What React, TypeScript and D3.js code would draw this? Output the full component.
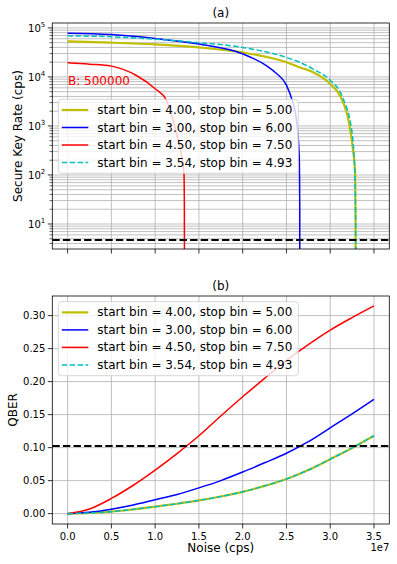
import React from 'react';
import * as d3 from 'd3';

// noise in units of 1e7 cps
const noiseTicks = [0, 0.5, 1.0, 1.5, 2.0, 2.5, 3.0, 3.5];
const qberTicks = [0, 0.05, 0.1, 0.15, 0.2, 0.25, 0.3];
const seriesNames = [
  'start bin = 4.00, stop bin = 5.00',
  'start bin = 3.00, stop bin = 6.00',
  'start bin = 4.50, stop bin = 7.50',
  'start bin = 3.54, stop bin = 4.93',
];

// (a) secure key rate
const keyNoiseYellow = [0, 0.5, 1.0, 1.5, 2.0, 2.5, 2.65, 2.8, 3.0, 3.12, 3.215, 3.26, 3.285, 3.289, 3.29];
const keyYellow = [5.3e4, 5.0e4, 4.6e4, 4.0e4, 3.16e4, 2.0e4, 1.58e4, 1.26e4, 7.2e3, 3.9e3, 1.15e3, 330, 112, 10, 0];
const keyNoiseBlue = [0, 0.5, 1.0, 1.5, 2.0, 2.27, 2.38, 2.5, 2.57, 2.615, 2.646, 2.652, 2.654];
const keyBlue = [7.8e4, 7.33e4, 6.1e4, 4.68e4, 2.95e4, 1.7e4, 1.2e4, 6.8e3, 3.1e3, 1.3e3, 240, 20, 0];
const keyNoiseRed = [0, 0.25, 0.5, 0.786, 1.0, 1.127, 1.233, 1.329, 1.334, 1.336];
const keyRed = [1.94e4, 1.82e4, 1.66e4, 1.07e4, 5.75e3, 3.4e3, 830, 112, 20, 0];
const keyNoiseCyan = [0, 0.5, 1.0, 1.5, 2.0, 2.5, 2.65, 2.8, 3.0, 3.14, 3.25, 3.28, 3.292, 3.295];
const keyCyan = [6.9e4, 6.6e4, 5.9e4, 5.0e4, 4.0e4, 2.5e4, 2.0e4, 1.46e4, 8.5e3, 3.9e3, 720, 112, 10, 0];
const keyThreshold = 4.7;

// (b) QBER
const qberNoise = [0, 0.25, 0.5, 0.75, 1.0, 1.25, 1.5, 1.75, 2.0, 2.25, 2.5, 2.75, 3.0, 3.25, 3.5];
const qberYellow = [0, 0.001, 0.003, 0.0065, 0.0105, 0.015, 0.02, 0.026, 0.033, 0.042, 0.0525, 0.066, 0.0825, 0.0995, 0.118];
const qberBlue = [0, 0.002, 0.0067, 0.013, 0.021, 0.029, 0.039, 0.05, 0.063, 0.077, 0.0915, 0.109, 0.13, 0.151, 0.173];
const qberRed = [0, 0.007, 0.023, 0.043, 0.066, 0.091, 0.118, 0.148, 0.177, 0.205, 0.232, 0.256, 0.278, 0.297, 0.3147];
const qberCyan = [0, 0.001, 0.003, 0.0065, 0.0105, 0.015, 0.02, 0.026, 0.033, 0.042, 0.0525, 0.066, 0.0825, 0.0995, 0.118];
const qberThreshold = 0.1026;

const W = 397, H = 564;
const left = 52.3, right = 389.3;
const topA = 23, botA = 249;
const topB = 296, botB = 524;
const font = 'DejaVu Sans, sans-serif';

const styles = [
  { color: '#bfbf00', width: 2.2, dash: null },
  { color: '#0000ff', width: 1.5, dash: null },
  { color: '#ff0000', width: 1.5, dash: null },
  { color: '#00bfbf', width: 1.5, dash: '5.5,2.4' },
];

const x = d3.scaleLinear().domain([-0.175, 3.675]).range([left, right]);
const yA = d3.scaleLog().domain([Math.pow(10, 0.49), Math.pow(10, 5.1)]).range([botA, topA]);
const yB = d3.scaleLinear().domain([-0.0157, 0.3297]).range([botB, topB]);

const keySeries = [
  [keyNoiseYellow, keyYellow],
  [keyNoiseBlue, keyBlue],
  [keyNoiseRed, keyRed],
  [keyNoiseCyan, keyCyan],
];
const qberSeries = [qberYellow, qberBlue, qberRed, qberCyan];

const Legend = ({ top }: { top: number }) => {
  const lx = 58.3, w = 240, h = 74;
  return (
    <g>
      <rect x={lx} y={top} width={w} height={h} rx={3} fill="white" fillOpacity={0.8} stroke="#cccccc" strokeWidth={0.8} />
      {seriesNames.map((name, i) => {
        const cy = top + 10.7 + i * 17.5;
        const s = styles[i];
        return (
          <g key={name}>
            <line x1={lx + 3.5} x2={lx + 30} y1={cy} y2={cy} stroke={s.color} strokeWidth={s.width}
              strokeDasharray={s.dash || undefined} />
            <text x={lx + 39} y={cy} dominantBaseline="central" fontSize={12} fontFamily={font}>{name}</text>
          </g>
        );
      })}
    </g>
  );
};

const XTicks = ({ bottom, labels }: { bottom: number; labels: boolean }) => (
  <g>
    {noiseTicks.map(t => (
      <g key={t}>
        <line x1={x(t)} x2={x(t)} y1={bottom} y2={bottom + 4.5} stroke="black" strokeWidth={0.8} />
        {labels && (
          <text x={x(t)} y={bottom + 16} textAnchor="middle" fontSize={10} fontFamily={font}>{t.toFixed(1)}</text>
        )}
      </g>
    ))}
  </g>
);

export default function App() {
  const majorLog = [1, 2, 3, 4, 5];
  const minorLog: number[] = [];
  for (let e = 0; e <= 5; e++) {
    for (let m = 2; m <= 9; m++) {
      const v = m * Math.pow(10, e);
      if (v >= yA.domain()[0] && v <= yA.domain()[1]) minorLog.push(v);
    }
  }
  const floor = yA.domain()[0] / 1e4;
  const keyLine = d3.line<[number, number]>()
    .x(d => x(d[0]))
    .y(d => yA(Math.max(d[1], floor)))
    .curve(d3.curveMonotoneX);
  const qLine = d3.line<[number, number]>()
    .x(d => x(d[0]))
    .y(d => yB(d[1]))
    .curve(d3.curveMonotoneX);

  return (
    <svg width={W} height={H} style={{ position: 'absolute', left: 0, top: 0, background: 'white' }}>
      <defs>
        <clipPath id="clipA"><rect x={left} y={topA} width={right - left} height={botA - topA} /></clipPath>
        <clipPath id="clipB"><rect x={left} y={topB} width={right - left} height={botB - topB} /></clipPath>
      </defs>

      {/* panel (a) */}
      <text x={(left + right) / 2} y={17} textAnchor="middle" fontSize={12} fontFamily={font}>(a)</text>
      <g>
        {minorLog.map(v => (
          <line key={'m' + v} x1={left} x2={right} y1={yA(v)} y2={yA(v)} stroke="#b0b0b0" strokeWidth={0.8} />
        ))}
        {majorLog.map(e => (
          <line key={'M' + e} x1={left} x2={right} y1={yA(Math.pow(10, e))} y2={yA(Math.pow(10, e))} stroke="#b0b0b0" strokeWidth={0.8} />
        ))}
        {noiseTicks.map(t => (
          <line key={t} x1={x(t)} x2={x(t)} y1={topA} y2={botA} stroke="#b0b0b0" strokeWidth={0.8} />
        ))}
      </g>
      <g clipPath="url(#clipA)">
        {keySeries.map(([xs, ys], i) => (
          <path key={i} d={keyLine(xs.map((v, j) => [v, ys[j]] as [number, number])) || ''} fill="none"
            stroke={styles[i].color} strokeWidth={styles[i].width} strokeDasharray={styles[i].dash || undefined} />
        ))}
        <line x1={left} x2={right} y1={yA(keyThreshold)} y2={yA(keyThreshold)} stroke="black" strokeWidth={2} strokeDasharray="7.4,3.2" />
      </g>
      <text x={68} y={85} fontSize={12} fill="#ff0000" fontFamily={font}>B: 500000</text>
      <rect x={left} y={topA} width={right - left} height={botA - topA} fill="none" stroke="black" strokeWidth={0.8} />
      {minorLog.map(v => (
        <line key={'mt' + v} x1={left - 2.8} x2={left} y1={yA(v)} y2={yA(v)} stroke="black" strokeWidth={0.6} />
      ))}
      {majorLog.map(e => (
        <g key={'t' + e}>
          <line x1={left - 4.5} x2={left} y1={yA(Math.pow(10, e))} y2={yA(Math.pow(10, e))} stroke="black" strokeWidth={0.8} />
          <text x={left - 7} y={yA(Math.pow(10, e)) + 4} textAnchor="end" fontSize={10} fontFamily={font}>
            10<tspan dy={-5} fontSize={7}>{e}</tspan>
          </text>
        </g>
      ))}
      <XTicks bottom={botA} labels={false} />
      <Legend top={99.3} />
      <text transform={`translate(21.5,${(topA + botA) / 2}) rotate(-90)`} textAnchor="middle" fontSize={12} fontFamily={font}>
        Secure Key Rate (cps)
      </text>

      {/* panel (b) */}
      <text x={(left + right) / 2} y={290} textAnchor="middle" fontSize={12} fontFamily={font}>(b)</text>
      <g>
        {qberTicks.map(t => (
          <line key={t} x1={left} x2={right} y1={yB(t)} y2={yB(t)} stroke="#b0b0b0" strokeWidth={0.8} />
        ))}
        {noiseTicks.map(t => (
          <line key={t} x1={x(t)} x2={x(t)} y1={topB} y2={botB} stroke="#b0b0b0" strokeWidth={0.8} />
        ))}
      </g>
      <g clipPath="url(#clipB)">
        {qberSeries.map((ys, i) => (
          <path key={i} d={qLine(qberNoise.map((v, j) => [v, ys[j]] as [number, number])) || ''} fill="none"
            stroke={styles[i].color} strokeWidth={styles[i].width} strokeDasharray={styles[i].dash || undefined} />
        ))}
        <line x1={left} x2={right} y1={yB(qberThreshold)} y2={yB(qberThreshold)} stroke="black" strokeWidth={2} strokeDasharray="7.4,3.2" />
      </g>
      <rect x={left} y={topB} width={right - left} height={botB - topB} fill="none" stroke="black" strokeWidth={0.8} />
      {qberTicks.map(t => (
        <g key={t}>
          <line x1={left - 4.5} x2={left} y1={yB(t)} y2={yB(t)} stroke="black" strokeWidth={0.8} />
          <text x={left - 7} y={yB(t) + 3.6} textAnchor="end" fontSize={10} fontFamily={font}>{t.toFixed(2)}</text>
        </g>
      ))}
      <XTicks bottom={botB} labels={true} />
      <Legend top={301.7} />
      <text transform={`translate(16.5,${(topB + botB) / 2}) rotate(-90)`} textAnchor="middle" fontSize={12} fontFamily={font}>
        QBER
      </text>
      <text x={(left + right) / 2} y={552} textAnchor="middle" fontSize={12} fontFamily={font}>Noise (cps)</text>
      <text x={right} y={551} textAnchor="end" fontSize={10} fontFamily={font}>1e7</text>
    </svg>
  );
}
